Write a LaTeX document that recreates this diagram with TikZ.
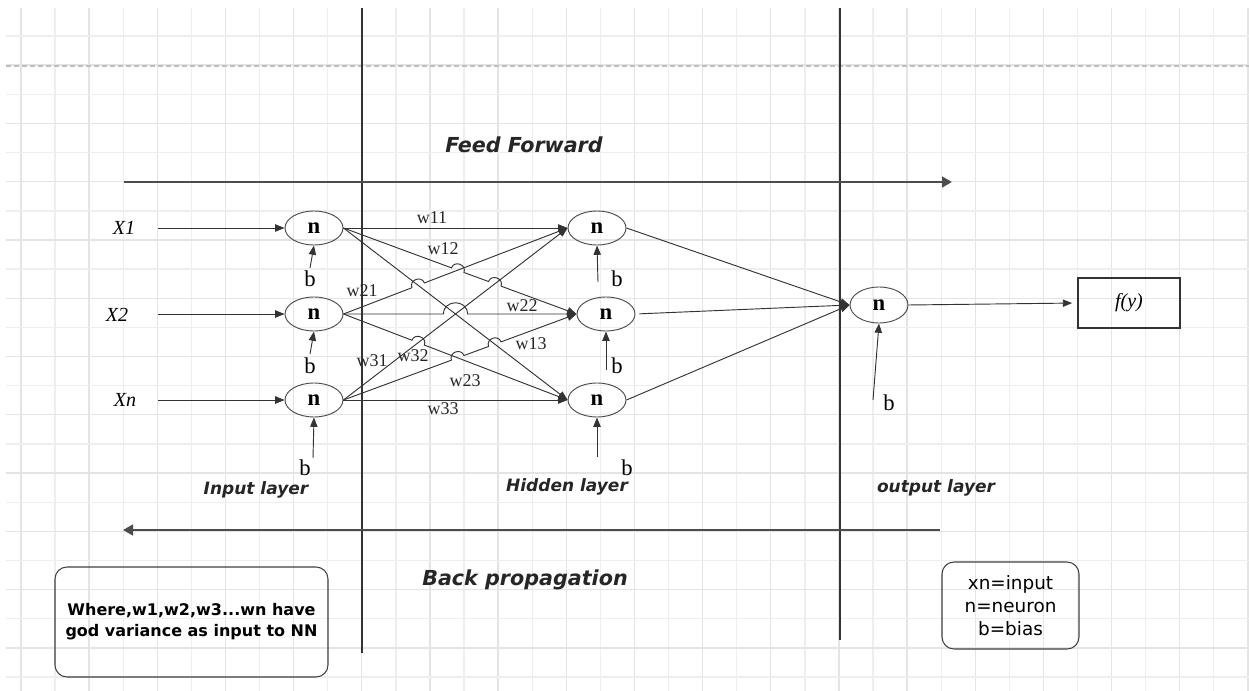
\documentclass[tikz,border=0pt]{standalone}
\usepackage{fontspec}
\setmainfont{Liberation Serif}
\newfontfamily\dejavu{DejaVu Sans}[BoldFont={DejaVu Sans Bold},ItalicFont={DejaVu Sans Oblique},BoldItalicFont={DejaVu Sans Bold Oblique}]
\usetikzlibrary{
    shapes.geometric,
    arrows.meta,
    calc,
    intersections
}
\newcommand{\hopgap}{5pt}

\begin{document}
\begin{tikzpicture}[x=0.75pt,y=-0.75pt,>={Triangle[length=7pt,width=5.5pt]},
    neuron/.style={ellipse, draw=black!70, line width=0.7pt, minimum width=43.5pt, minimum height=25.5pt, inner sep=0pt, font=\bfseries\fontsize{17}{17}\selectfont},
    wire/.style={->, draw=black!80, line width=0.7pt},
    hopcurve/.style={bend left=90, looseness=1.6},
    wlab/.style={inner sep=0pt, font=\fontsize{13.5}{13.5}\selectfont, text=black!85},
    blab/.style={inner sep=0pt, font=\fontsize{17}{17}\selectfont},
    xlab/.style={inner sep=0pt, font=\itshape\fontsize{15}{15}\selectfont},
    layerlab/.style={inner sep=0pt, font=\dejavu\bfseries\itshape\fontsize{12.75}{15}\selectfont, text=black!85},
    title/.style={inner sep=0pt, font=\dejavu\bfseries\itshape\fontsize{15.5}{18}\selectfont, text=black!85},
    bigarrow/.style={->, >={Triangle[length=7.5pt,width=8pt]}, draw=black!70, line width=1.8pt},
    sep/.style={draw=black!80, line width=1pt},
    note/.style={draw=black!75, line width=0.8pt, rounded corners=9pt, align=center},
    gridminor/.style={draw=gray!13, line width=1pt},
    gridmajor/.style={draw=gray!21, line width=1pt}]
    \useasboundingbox (0,0) rectangle (1249,691);

    % squared paper
    \foreach \i in {0,...,36} {
        \pgfmathparse{mod(\i,2)==0 ? "gridmajor" : "gridminor"}
        \draw[\pgfmathresult] ({21+34.08*\i},8) -- ({21+34.08*\i},691);
    }
    \foreach \j in {0,...,22} {
        \pgfmathparse{mod(\j,2)==1 ? "gridmajor" : "gridminor"}
        \draw[\pgfmathresult] (6,{36+29.14*\j}) -- (1249,{36+29.14*\j});
    }
    \draw[gray!50, line width=0.8pt, dash pattern=on 4pt off 2pt] (6,66) -- (1249,66);

    \draw[sep] (362,8) -- (362,653);
    \draw[sep] (840,8) -- (840,640);

    % neurons
    \node[neuron] (i1) at (314,228) {n};
    \node[neuron] (i2) at (314,314) {n};
    \node[neuron] (i3) at (314,400) {n};
    \node[neuron] (h1) at (597,228) {n};
    \node[neuron] (h2) at (606,314) {n};
    \node[neuron] (h3) at (597,400) {n};
    \node[neuron, minimum height=27pt] (o) at (879,305) {n};
    \node[draw=black!80, line width=0.8pt, minimum width=76.5pt, minimum height=37.5pt, font=\itshape\fontsize{15}{15}\selectfont] (fy) at (1129,303) {f(y)};

    % inputs
    \node[xlab] (x1) at (124,228) {X1};
    \node[xlab] (x2) at (117,315) {X2};
    \node[xlab] (xn) at (125,400) {Xn};
    \coordinate (s1) at (158,228);
    \coordinate (s2) at (158,314);
    \coordinate (s3) at (158,400);
    \draw[wire] (s1) -- (i1.west);
    \draw[wire] (s2) -- (i2.west);
    \draw[wire] (s3) -- (i3.west);

    % bias
    \node[blab] (bi1) at (310,279) {b};
    \node[blab] (bi2) at (310,366) {b};
    \node[blab] (bi3) at (305,468) {b};
    \node[blab] (bh1) at (617,279) {b};
    \node[blab] (bh2) at (617,366) {b};
    \node[blab] (bh3) at (627,468) {b};
    \node[blab] (bo) at (889,403) {b};
    \coordinate (ti1) at (310,268);
    \coordinate (ti2) at (310,354);
    \coordinate (ti3) at (313,458);
    \coordinate (th1) at (598,282);
    \coordinate (th2) at (606,370);
    \coordinate (th3) at (597,457);
    \coordinate (to) at (873,400);
    \draw[wire] (ti1) -- (i1.south);
    \draw[wire] (ti2) -- (i2.south);
    \draw[wire] (ti3) -- (i3.south);
    \draw[wire] (th1) -- (h1.south);
    \draw[wire] (th2) -- (h2.south);
    \draw[wire] (th3) -- (h3.south);
    \draw[wire] (to) -- (o.south);

    % crossings
    \path[name path=l12] (i1.east) -- (h2.west);
    \path[name path=l13] (i1.east) -- (h3.west);
    \path[name path=l21] (i2.east) -- (h1.west);
    \path[name path=l23] (i2.east) -- (h3.west);
    \path[name path=l31] (i3.east) -- (h1.west);
    \path[name path=l32] (i3.east) -- (h2.west);
    \path[name intersections={of=l12 and l21, by=c1}];
    \path[name intersections={of=l12 and l31, by=c2}];
    \path[name intersections={of=l21 and l13, by=c3}];
    \path[name intersections={of=l13 and l31, by=c4}];
    \path[name intersections={of=l23 and l31, by=c5}];
    \path[name intersections={of=l32 and l23, by=c6}];
    \path[name intersections={of=l32 and l13, by=c7}];

    % weights
    \draw[wire] (i1.east) -- (h1.west);
    \draw[wire] (i1.east) -- ($(c1)!\hopgap!(i1.east)$) to[hopcurve] ($(c1)!\hopgap!(h2.west)$)
        -- ($(c2)!\hopgap!(i1.east)$) to[hopcurve] ($(c2)!\hopgap!(h2.west)$) -- (h2.west);
    \draw[wire] (i1.east) -- (h3.west);
    \draw[wire] (i2.east) -- ($(c3)!\hopgap!(i2.east)$) to[hopcurve] ($(c3)!\hopgap!(h1.west)$) -- (h1.west);
    \draw[wire] (i2.east) -- ($(c4)!9pt!(i2.east)$) to[hopcurve] ($(c4)!9pt!(h2.west)$) -- (h2.west);
    \draw[wire] (i2.east) -- ($(c5)!\hopgap!(i2.east)$) to[hopcurve] ($(c5)!\hopgap!(h3.west)$) -- (h3.west);
    \draw[wire] (i3.east) -- (h1.west);
    \draw[wire] (i3.east) -- ($(c6)!\hopgap!(i3.east)$) to[hopcurve] ($(c6)!\hopgap!(h2.west)$)
        -- ($(c7)!\hopgap!(i3.east)$) to[hopcurve] ($(c7)!\hopgap!(h2.west)$) -- (h2.west);
    \draw[wire] (i3.east) -- (h3.west);

    \node[wlab] (w11) at (432,218) {w11};
    \node[wlab] (w12) at (443,249) {w12};
    \node[wlab] (w21) at (362,291) {w21};
    \node[wlab] (w22) at (522,306) {w22};
    \node[wlab] (w13) at (531,344) {w13};
    \node[wlab] (w31) at (372,361) {w31};
    \node[wlab] (w32) at (413,356) {w32};
    \node[wlab] (w23) at (465,381) {w23};
    \node[wlab] (w33) at (443,409) {w33};

    % to output
    \draw[wire] (h1.east) -- (o.west);
    \draw[wire, shorten <=3pt] (h2.east) -- (o.west);
    \draw[wire] (h3.east) -- (o.west);
    \draw[wire, shorten >=4pt] (o.east) -- (fy.west);

    % directions
    \coordinate (ffs) at (124,182);
    \coordinate (ffe) at (952,182);
    \coordinate (bps) at (940,530);
    \coordinate (bpe) at (123,530);
    \draw[bigarrow] (ffs) -- (ffe);
    \draw[bigarrow] (bps) -- (bpe);
    \node[title] (ff) at (524,145) {Feed Forward};
    \node[title] (bp) at (525,580) {Back propagation};

    \node[layerlab] (inl) at (256,490) {Input layer};
    \node[layerlab] (hidl) at (567,487) {Hidden layer};
    \node[layerlab] (outl) at (936,488) {output layer};

    % notes
    \node[note, minimum width=204.75pt, minimum height=82.5pt, font=\dejavu\bfseries\fontsize{12}{15.75}\selectfont] (where) at (191.5,622) {Where,w1,w2,w3...wn have\\god variance as input to NN};
    \node[note, minimum width=102.75pt, minimum height=65.25pt, font=\dejavu\fontsize{13.8}{17.25}\selectfont] (legend) at (1010.5,605.5) {xn=input\\n=neuron\\b=bias};
\end{tikzpicture}
\end{document}
